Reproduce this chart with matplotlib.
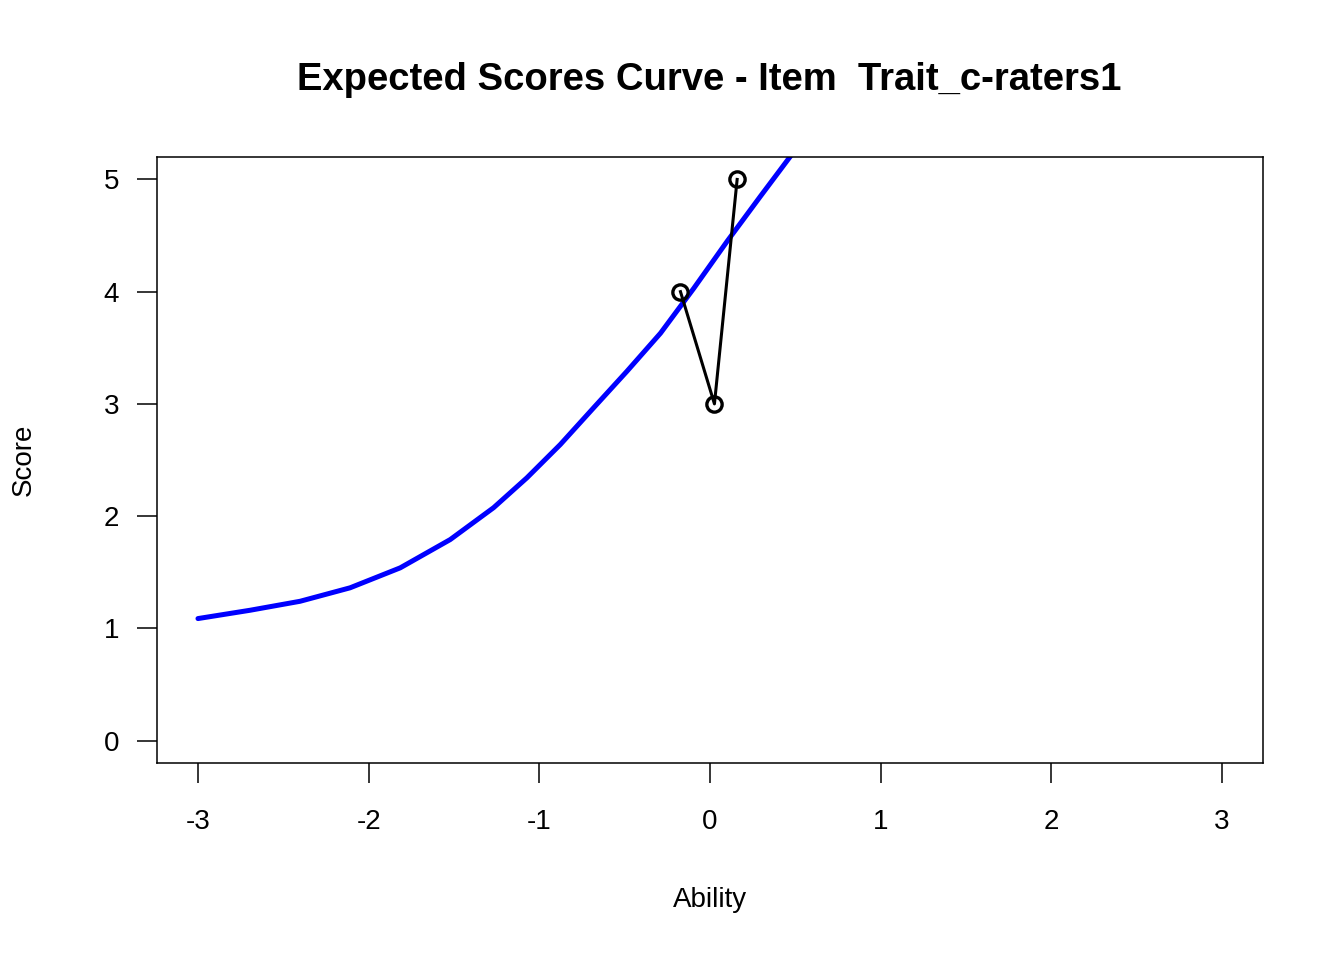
import matplotlib
matplotlib.use("Agg")
import matplotlib.pyplot as plt

plt.rcParams['font.family'] = ['Liberation Sans', 'DejaVu Sans']
plt.rcParams['axes.unicode_minus'] = False

# expected score curve
ability = [-3.0, -2.695, -2.402, -2.109, -1.815, -1.522, -1.268, -1.073,
           -0.877, -0.682, -0.487, -0.290, -0.095, 0.101, 0.296, 0.472]
expected = [1.087, 1.161, 1.241, 1.361, 1.539, 1.791, 2.075, 2.341,
            2.638, 2.965, 3.29, 3.63, 4.03, 4.45, 4.851, 5.208]

# observed points
obs_ability = [-0.173, 0.026, 0.159]
obs_score = [4, 3, 5]

title = "Expected Scores Curve - Item  Trait_c-raters1"

fig = plt.figure(figsize=(13.44, 9.6), dpi=100)
ax = fig.add_axes([157/1344, 1 - 763/960, 1106/1344, 606/960])

ax.plot(ability, expected, color='#0000ff', lw=3.6, solid_capstyle='round',
        solid_joinstyle='round')
ax.plot(obs_ability, obs_score, color='black', lw=2.2, marker='o',
        markersize=11, markerfacecolor='none', markeredgewidth=2.4)

ax.set_xlim(-3.24, 3.24)
ax.set_ylim(-0.2, 5.2)
ax.set_xticks(range(-3, 4))
ax.set_yticks(range(0, 6))
ax.tick_params(axis='both', direction='out', length=14.4, width=1.1,
               labelsize=20)
ax.tick_params(axis='x', pad=19)
ax.tick_params(axis='y', pad=13)
for s in ax.spines.values():
    s.set_linewidth(1.1)

ax.set_xlabel("Ability", fontsize=20)
ax.set_ylabel("Score", fontsize=20)
ax.xaxis.set_label_coords(0.5, (763 - 900) / 606)
ax.xaxis.label.set_va('center')
ax.yaxis.set_label_coords((24 - 157) / 1106, 0.5)
ax.yaxis.label.set_va('center')

fig.text(709/1344, 1 - 80/960, title, ha='center', va='center',
         fontsize=27.5, fontweight='bold')

fig.savefig("out.png", dpi=100)
